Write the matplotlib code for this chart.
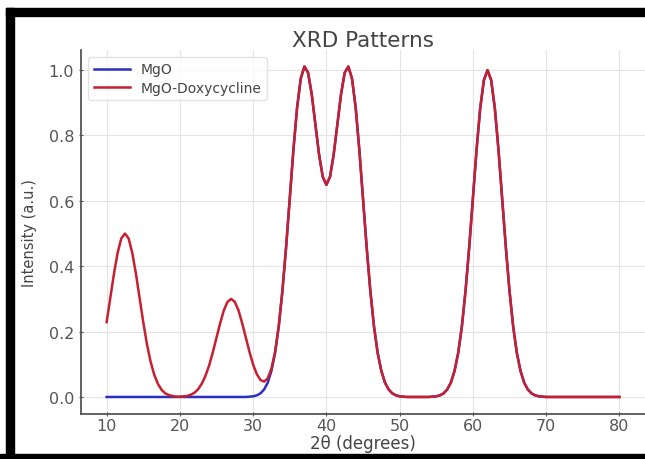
import matplotlib
matplotlib.use("Agg")
import numpy as np
import matplotlib.pyplot as plt
from matplotlib.patches import Rectangle

# 2theta grid (degrees), 0.5 step
two_theta = np.arange(10.0, 80.01, 0.5)

# MgO pattern
mgo = ([0.0] * 38 +
       [0.000, 0.001, 0.002, 0.005, 0.011, 0.023, 0.044, 0.080, 0.135, 0.216,
        0.325, 0.458, 0.607, 0.756, 0.885, 0.974, 1.011, 0.992, 0.926, 0.834,
        0.742, 0.674, 0.649, 0.674, 0.742, 0.834, 0.926, 0.992, 1.011, 0.974,
        0.885, 0.756, 0.607, 0.458, 0.325, 0.216, 0.135, 0.080, 0.044, 0.023,
        0.011, 0.005, 0.002, 0.001] +
       [0.0] * 7 +
       [0.001, 0.002, 0.005, 0.011, 0.023, 0.044, 0.080, 0.135, 0.216, 0.325,
        0.458, 0.607, 0.755, 0.883, 0.969, 1.000, 0.969, 0.883, 0.755, 0.607,
        0.458, 0.325, 0.216, 0.135, 0.080, 0.044, 0.023, 0.011, 0.005, 0.002,
        0.001] +
       [0.0] * 21)

# MgO-Doxycycline pattern
mgo_doxy = ([0.229, 0.303, 0.377, 0.441, 0.485, 0.500, 0.485, 0.441, 0.377, 0.303,
             0.229, 0.162, 0.108, 0.068, 0.040, 0.022, 0.011, 0.006, 0.003, 0.001,
             0.001, 0.002, 0.003, 0.007, 0.013, 0.024, 0.041, 0.065, 0.097, 0.137,
             0.182, 0.226, 0.265, 0.291, 0.300, 0.291, 0.265, 0.226, 0.182, 0.138,
             0.099, 0.070, 0.052, 0.047, 0.057, 0.087, 0.138, 0.218, 0.326, 0.458,
             0.607, 0.756, 0.885, 0.974, 1.011, 0.992, 0.926, 0.834, 0.742, 0.674,
             0.649, 0.674, 0.742, 0.834, 0.926, 0.992, 1.011, 0.974, 0.885, 0.756,
             0.607, 0.458, 0.325, 0.216, 0.135, 0.080, 0.044, 0.023, 0.011, 0.005,
             0.002, 0.001] +
            [0.0] * 7 +
            [0.001, 0.002, 0.005, 0.011, 0.023, 0.044, 0.080, 0.135, 0.216, 0.325,
             0.458, 0.607, 0.755, 0.883, 0.969, 1.000, 0.969, 0.883, 0.755, 0.607,
             0.458, 0.325, 0.216, 0.135, 0.080, 0.044, 0.023, 0.011, 0.005, 0.002,
             0.001] +
            [0.0] * 21)

W, H = 645, 460
fig = plt.figure(figsize=(W / 100, H / 100), dpi=100)
ax = fig.add_axes([81 / W, 45.5 / H, 564 / W, 363.5 / H])

ax.plot(two_theta, mgo, color="#2b2fbf", lw=1.8, label="MgO")
ax.plot(two_theta, mgo_doxy, color="#c81f30", lw=1.8, label="MgO-Doxycycline")

ax.set_title("XRD Patterns", fontsize=15.5, color="#444444", pad=2)
ax.set_xlabel("2θ (degrees)", fontsize=12, color="#444444")
ax.xaxis.set_label_coords(0.5, -0.057)
ax.set_ylabel("Intensity (a.u.)", fontsize=10.5, color="#444444", labelpad=8)

ax.grid(True, color="#e3e3e3", lw=0.8)
ax.set_axisbelow(True)
for side in ["top", "right"]:
    ax.spines[side].set_visible(False)
for side in ["left", "bottom"]:
    ax.spines[side].set_color("#555555")
    ax.spines[side].set_linewidth(1.3)
ax.tick_params(colors="#555555", labelsize=11.5, length=3, direction="inout")
ax.tick_params(axis="x", pad=1.5)

leg = ax.legend(loc="upper left", fontsize=10, handlelength=2.6,
                frameon=True, borderaxespad=0.5, labelspacing=0.3)
leg.get_frame().set_edgecolor("#dddddd")
for t in leg.get_texts():
    t.set_color("#444444")

# black frame around the picture
for x0, y0, w, h in [(6, 0, 8, 451), (6, 443, 639, 8), (0, 0, 645, 5)]:
    fig.patches.append(Rectangle((x0 / W, y0 / H), w / W, h / H,
                                 transform=fig.transFigure, color="black"))

fig.savefig("out.png", dpi=100)
